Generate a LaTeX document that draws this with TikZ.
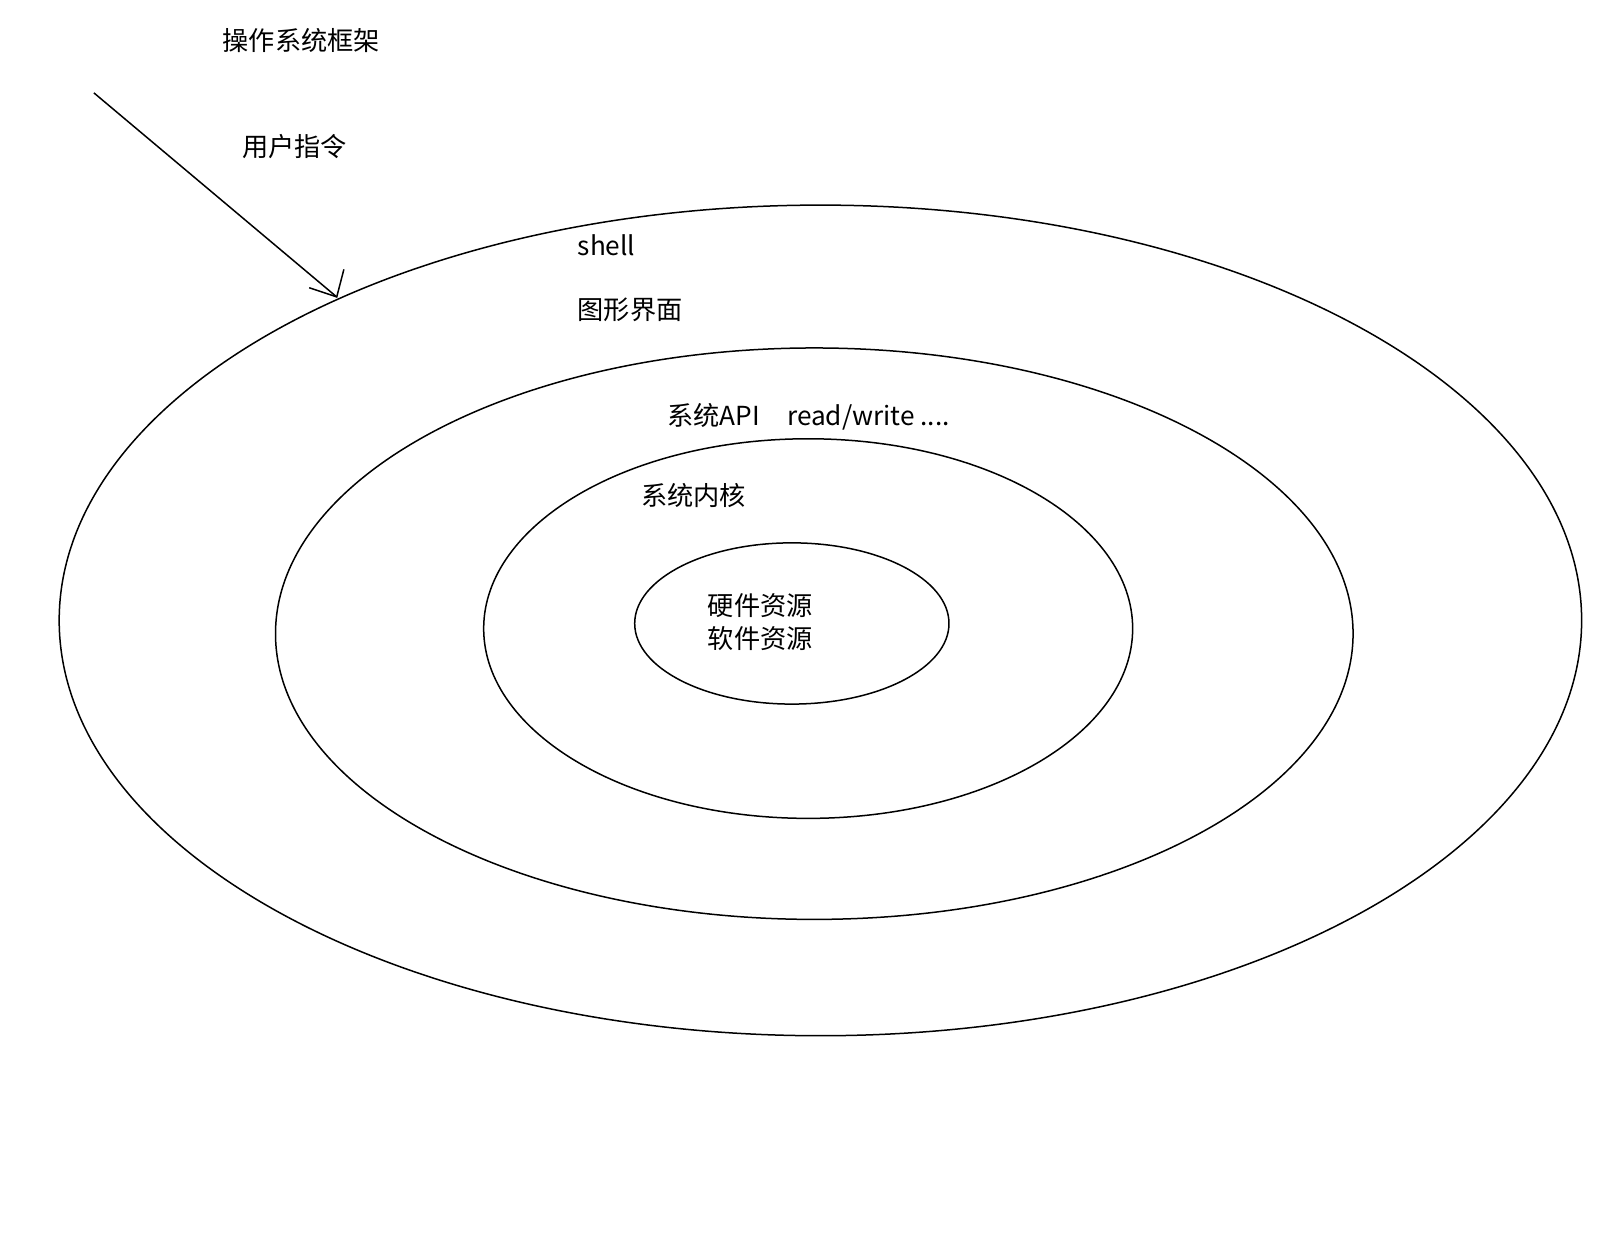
\documentclass[tikz,border=0pt]{standalone}
\usepackage{fontspec}
\setmainfont{Noto Sans CJK SC}
\begin{document}
\begin{tikzpicture}[x=1.0204pt,y=-1.0204pt,
  ring/.style={draw=black,line width=1.5pt},
  lbl/.style={anchor=west,inner sep=0pt,font=\fontsize{26.2}{32.7}\selectfont},
  ln/.style={draw=black,line width=1.5pt}]
\useasboundingbox[fill=white] (0,0) rectangle (1568,1209.3);
\draw[ring] (804,608) ellipse [x radius=746,y radius=407];
\draw[ring] (798,621) ellipse [x radius=528,y radius=280];
\draw[ring] (792,616) ellipse [x radius=318,y radius=186];
\draw[ring] (776,611) ellipse [x radius=154,y radius=79];
\node[lbl] (title) at (218,40) {操作系统框架};
\node[lbl] (cmd) at (237,144) {用户指令};
\node[lbl] (shell) at (566,240) {shell};
\node[lbl] (gui) at (566,304) {图形界面};
\node[lbl] (api) at (654,408) {系统API\hspace{27pt}read/write ....};
\node[lbl] (kern) at (628,486) {系统内核};
\node[lbl,align=center,anchor=center] (res) at (745,610) {硬件资源\\软件资源};
\coordinate (s) at (92,91);
\coordinate (t) at (330,291);
\coordinate (b1) at (303,282);
\coordinate (b2) at (337,264);
\draw[ln] (s) -- (t);
\draw[ln] (b1) -- (t) -- (b2);
\end{tikzpicture}
\end{document}
